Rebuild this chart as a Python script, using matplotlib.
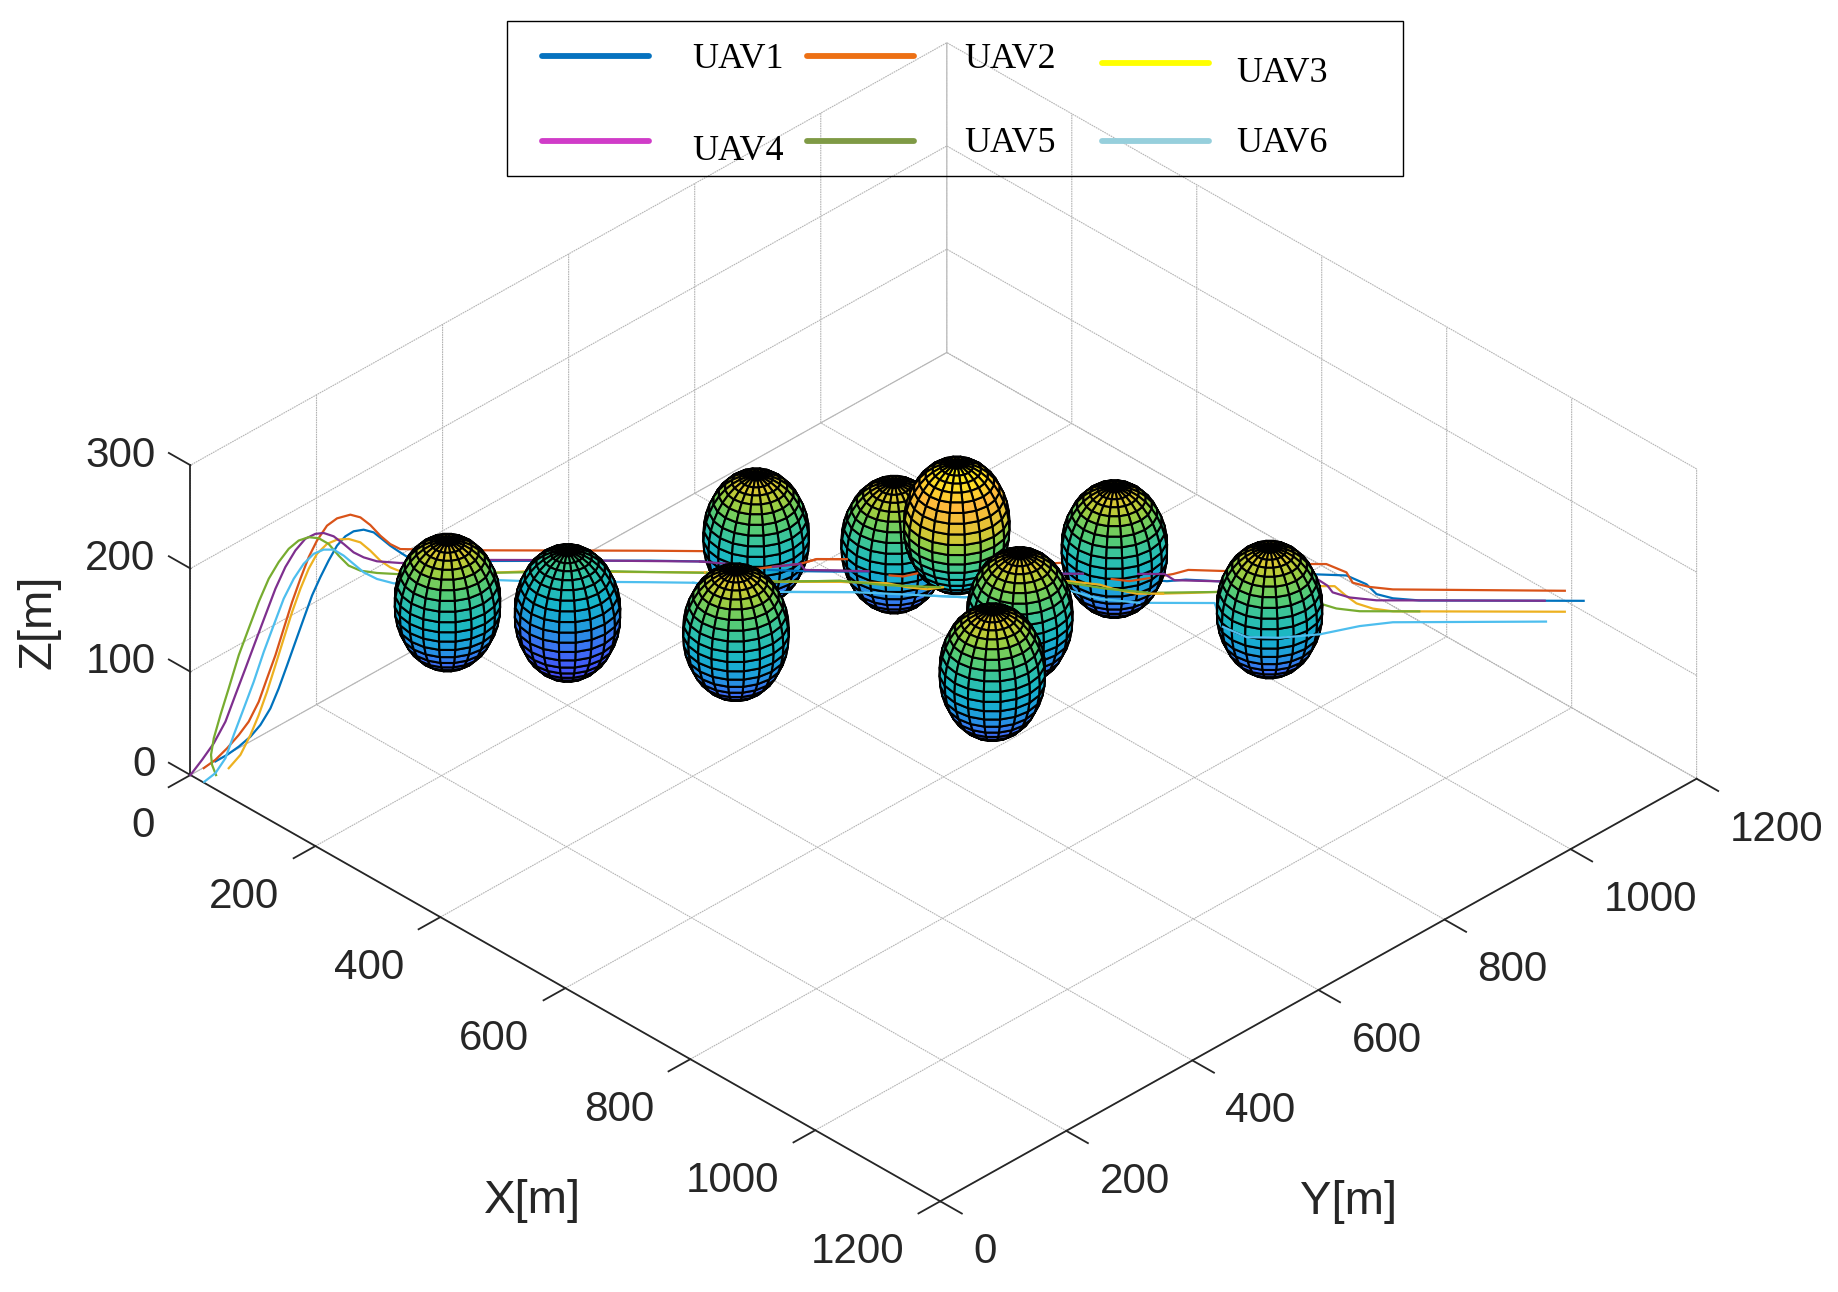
import numpy as np
import matplotlib
matplotlib.use("Agg")
import matplotlib.pyplot as plt
from matplotlib.colors import LinearSegmentedColormap
from matplotlib.lines import Line2D
from matplotlib.patches import Rectangle

plt.rcParams['font.family'] = ['Liberation Sans', 'DejaVu Sans']
plt.rcParams['grid.color'] = '#b4b4b4'
plt.rcParams['grid.linewidth'] = 0.8
plt.rcParams['grid.linestyle'] = (0, (1.5, 0.7))

x_ticks = [0, 200, 400, 600, 800, 1000, 1200]
y_ticks = [0, 200, 400, 600, 800, 1000, 1200]
z_ticks = [0, 100, 200, 300]

# obstacle centres, radius 60
back_x = [287, 407, 488, 588]
back_y = [613, 713, 732, 883]
back_z = [120, 120, 160, 120]
front_x = [135, 201, 406, 608, 666, 797]
front_y = [274, 399, 463, 713, 612, 922]
front_z = [120, 90, 120, 120, 120, 120]
radius = 60

# paths fly along x = y, so only x and z are listed
uav1_x = [19.9, 29.2, 38.5, 47.8, 55.7, 63.7, 70.3, 77, 83.6, 90.2, 96.9, 103.5, 110.1, 116.8, 123.4, 130, 138, 146, 152.6, 159.2, 167.2, 175, 239, 366, 411, 460, 486, 540, 693, 711, 778, 793, 820, 897, 921, 937, 945, 958, 979, 1110]
uav1_z = [13.2, 19.6, 27.6, 37.3, 48.6, 64.7, 84, 106.5, 129.1, 151.6, 174.2, 191.9, 208, 222.5, 231.5, 236.4, 238, 235.4, 229, 222.5, 216, 210, 208, 208.7, 208, 200, 199, 198.6, 197, 197, 190, 191.6, 190, 197, 196, 187.5, 178, 174, 172, 172]
uav2_x = [10.6, 19.9, 29.2, 38.5, 46.4, 54.4, 61, 67.7, 74.3, 81, 87.6, 94.2, 100.8, 108.8, 116.8, 127.4, 135.4, 143.3, 151.3, 159.2, 167.2, 233.5, 366, 411.6, 451, 464, 486, 499, 523, 557, 568, 579, 687, 695, 734, 748, 764, 783, 795, 824, 893, 905, 921, 926, 939, 958, 1095]
uav2_z = [6.7, 14.8, 26, 38.9, 51.8, 71.1, 93.7, 116.2, 142, 167.8, 190.3, 211.2, 227.3, 241.8, 248.9, 252.5, 249.9, 242.5, 232.2, 224.1, 219.3, 218.3, 218.3, 218, 201, 203, 206, 210.6, 210.6, 195, 194, 197, 207, 207.7, 192, 190, 193, 197, 201, 200, 207, 207, 199, 189, 185, 182.6, 181.7]
uav3_x = [30.5, 39.8, 47.8, 54.4, 61, 67.7, 74.3, 81, 87.6, 94.2, 100.8, 108.8, 116.8, 126, 135.4, 143.3, 151.3, 159.2, 167.2, 244.2, 268, 410, 467, 517.7, 555, 571, 587, 599.5, 698, 724.5, 735, 754, 775, 796, 817.5, 901, 911.6, 921, 929, 942, 958, 1095]
uav3_z = [6.7, 19.6, 38.9, 58.2, 80.8, 106.5, 132.3, 158.1, 180.6, 200, 214.5, 224.1, 228.3, 229, 225.7, 217.7, 208, 201.6, 197.7, 196.8, 198, 197.4, 188.6, 188.6, 187.4, 183.6, 181.6, 183.6, 190, 186.5, 182.6, 177.8, 178, 178.7, 179.7, 185.6, 185.6, 176, 169, 164, 161.4, 161.4]
uav4_x = [0, 9.3, 18.6, 27.9, 35.8, 43.8, 51.7, 59.7, 67.7, 75.6, 83.6, 91.5, 99.5, 106.1, 114.1, 122.1, 130, 138, 148.6, 167.2, 238.9, 273.4, 406, 428.6, 464, 486, 489.6, 540, 693.5, 711, 755, 776, 784, 820, 897, 906, 910, 923.6, 945, 1079]
uav4_z = [0, 14.8, 30.8, 51.8, 77.6, 103.3, 129.1, 154.9, 180.6, 201.6, 217.7, 229, 233.8, 234.7, 231.5, 224.1, 216, 211.2, 207.4, 205.8, 209, 209, 208, 205.7, 203, 206, 200, 199, 197, 197, 197, 197, 191, 190, 193, 186, 179.6, 174.7, 172, 172]
uav5_x = [20.4, 17.2, 16.4, 18.6, 23.9, 30.5, 38.5, 46.4, 54.4, 62.4, 70.3, 78.3, 86.2, 94.2, 102.2, 110.1, 118.1, 126, 135.4, 148.6, 164.5, 331.7, 366, 411.6, 464, 517.7, 555, 597, 698, 730, 764, 817.5, 902, 913, 931.5, 979]
uav5_z = [0, 9.9, 19.6, 35.7, 58.2, 84, 116.2, 142, 167.8, 190.3, 206.4, 219.3, 227.3, 230.6, 229.6, 224.1, 212.8, 203.2, 198.3, 196.1, 195.1, 198.4, 197.7, 197, 188.6, 189.6, 185.5, 183.6, 188.6, 182.6, 178.7, 179.7, 168, 164, 161.4, 161.4]
uav6_x = [22, 19.9, 27.9, 34.5, 42.5, 50.4, 58.4, 66.3, 74.3, 82.3, 90.2, 98.2, 106.1, 114.1, 122.1, 130, 138, 148.6, 161.9, 246.8, 272, 329, 366, 400.6, 470, 528, 617, 700.6, 724.5, 756, 816, 822.5, 841.6, 868, 900, 931.5, 958, 1080]
uav6_y = [0, 19.9, 27.9, 34.5, 42.5, 50.4, 58.4, 66.3, 74.3, 82.3, 90.2, 98.2, 106.1, 114.1, 122.1, 130, 138, 148.6, 161.9, 246.8, 272, 329, 366, 400.6, 470, 528, 617, 700.6, 724.5, 756, 816, 822.5, 841.6, 868, 900, 931.5, 958, 1080]
uav6_z = [1, 1.9, 16.4, 38.9, 64.7, 90.4, 119.4, 145.2, 171, 190.3, 204.8, 214.5, 218.6, 218.6, 212.8, 204.8, 196.7, 190.3, 186.1, 189.4, 188.4, 188, 187.8, 187.4, 178.7, 178.7, 174, 180.7, 172.7, 169, 169, 146, 136, 135.5, 139, 147, 150.8, 151.8]

uav_colors = ['#0072BD', '#D95319', '#EDB120', '#7E2F8E', '#77AC30', '#4DBEEE']
legend_colors = ['#0672BF', '#ED7014', '#FFFF00', '#D03CC8', '#7F9A45', '#96CFDC']
legend_names = ['UAV1', 'UAV2', 'UAV3', 'UAV4', 'UAV5', 'UAV6']

# x ranges where a path runs in front of the rear obstacles
uav1_front = [(460, 540), (693, 711)]
uav2_front = [(451, 523), (557, 579), (734, 778)]
uav3_front = [(410, 600), (698, 775)]
uav4_front = [(406, 429), (464, 540), (693, 711), (755, 776)]
uav5_front = [(411, 597), (698, 764)]
uav6_front = [(400, 617), (700, 756)]

# colours picked off the spheres in the picture
parula = LinearSegmentedColormap.from_list('parula', [
    (0.0, (0.24, 0.15, 0.66)), (0.16, (0.27, 0.31, 0.98)),
    (0.31, (0.235, 0.43, 0.96)), (0.40, (0.137, 0.59, 0.88)),
    (0.50, (0.078, 0.706, 0.80)), (0.60, (0.196, 0.765, 0.647)),
    (0.67, (0.353, 0.804, 0.431)), (0.74, (0.647, 0.804, 0.235)),
    (0.78, (0.86, 0.78, 0.20)), (0.89, (1.0, 0.725, 0.235)),
    (1.0, (0.98, 0.95, 0.10))])
zmin = 20
zmax = 220


def draw_sphere(ax, cx, cy, cz, order):
    u = np.linspace(0, 2 * np.pi, 21)
    v = np.linspace(0, np.pi, 21)
    sx = cx + radius * np.outer(np.cos(u), np.sin(v))
    sy = cy + radius * np.outer(np.sin(u), np.sin(v))
    sz = cz + radius * np.outer(np.ones_like(u), np.cos(v))
    # colour each facet by the height of its middle
    mid = 0.5 * (sz[:, :-1] + sz[:, 1:])
    mid = np.hstack([mid, mid[:, -1:]])
    colors = parula((mid - zmin) / (zmax - zmin))
    surf = ax.plot_surface(sx, sy, sz, facecolors=colors, edgecolor='black',
                           linewidth=1.5, rstride=1, cstride=1, shade=False)
    surf.set_zorder(order)


def draw_part(ax, xs, ys, zs, color, lo, hi, order):
    xs, ys, zs = np.array(xs), np.array(ys), np.array(zs)
    keep = (xs >= lo) & (xs <= hi)
    ax.plot(xs[keep], ys[keep], zs[keep], color=color, lw=1.6, zorder=order)


fig = plt.figure(figsize=(18.38, 12.92), dpi=100)
ax = fig.add_axes([-83.5 / 1838, -357 / 1292, 2000 / 1838, 2000 / 1292],
                  projection='3d', computed_zorder=False)
ax.patch.set_visible(False)
ax.set_proj_type('ortho')
ax.view_init(elev=34.3, azim=-44.75)
ax.set_box_aspect((1065, 1065, 375), zoom=0.7534)

paths = [
    (uav1_x, uav1_x, uav1_z, uav1_front),
    (uav2_x, uav2_x, uav2_z, uav2_front),
    (uav3_x, uav3_x, uav3_z, uav3_front),
    (uav4_x, uav4_x, uav4_z, uav4_front),
    (uav5_x, uav5_x, uav5_z, uav5_front),
    (uav6_x, uav6_y, uav6_z, uav6_front),
]
for i, (xs, ys, zs, front) in enumerate(paths):
    ax.plot(xs, ys, zs, color=uav_colors[i], lw=1.6, zorder=1 + i * 0.01)
    for lo, hi in front:
        draw_part(ax, xs, ys, zs, uav_colors[i], lo, hi, 5 + i * 0.01)

for i in range(len(back_x)):
    draw_sphere(ax, back_x[i], back_y[i], back_z[i], 2 + i * 0.1)
for i in range(len(front_x)):
    draw_sphere(ax, front_x[i], front_y[i], front_z[i], 6 + i * 0.1)
# UAV6 crosses the last obstacle on its near side
draw_part(ax, uav6_x, uav6_y, uav6_z, uav_colors[5], 822, 900, 8)

ax.set_xlim(0, 1200)
ax.set_ylim(0, 1200)
ax.set_zlim(0, 300)
ax.set_xticks(x_ticks)
ax.set_yticks(y_ticks)
ax.set_zticks(z_ticks)
ax.set_xticklabels([])
ax.set_yticklabels([])
ax.set_zticklabels([])
ax.zaxis.set_ticks_position('lower')
# z ticks should run along x, not along y
ax.zaxis._get_tickdir = lambda pos: 0

for axis in (ax.xaxis, ax.yaxis, ax.zaxis):
    axis.set_pane_color((1, 1, 1, 0))
    axis.pane.set_edgecolor((1, 1, 1, 0))
    axis.line.set_color('#262626')
    axis.line.set_linewidth(1.3)
    axis._axinfo['tick']['outward_factor'] = 0.0
    axis._axinfo['tick']['inward_factor'] = 0.36
    axis._axinfo['tick']['linewidth'] = {True: 1.3, False: 1.3}
    axis._axinfo['tick']['color'] = '#262626'
ax.zaxis._axinfo['tick']['outward_factor'] = 0.36
ax.zaxis._axinfo['tick']['inward_factor'] = 0.0
ax.tick_params(colors='#262626', width=1.3)

label_size = 30.3
title_size = 34
text_color = '#262626'
for v in x_ticks:
    ax.text(v, -57, -30, str(v), ha='right', va='center', fontsize=label_size, color=text_color)
for v in y_ticks:
    ax.text(1253, v, -31, str(v), ha='left', va='center', fontsize=label_size, color=text_color)
for v in z_ticks:
    ax.text(-56, 0, v - 10, str(v), ha='right', va='center', fontsize=label_size, color=text_color)
ax.text(876, -325, 0, 'X[m]', ha='center', va='center', fontsize=title_size, color=text_color)
ax.text(1525, 325, 0, 'Y[m]', ha='center', va='center', fontsize=title_size, color=text_color)

# hand placed legend, the entries are not on a regular grid
leg = fig.add_axes([0, 0, 1, 1])
leg.set_xlim(0, 1838)
leg.set_ylim(1292, 0)
leg.axis('off')
leg.patch.set_visible(False)
leg.text(39, 622, 'Z[m]', rotation=90, ha='center', va='center', fontsize=title_size, color=text_color)
leg.add_patch(Rectangle((506.5, 21), 896.5, 155, fill=False, edgecolor='black', linewidth=1))
handle_x = [542, 807, 1102, 542, 807, 1102]
handle_y = [56, 56, 63, 141, 141, 141]
text_x = [692, 964, 1236, 692, 964, 1236]
text_y = [60, 60, 74, 152, 144, 144]
for i in range(6):
    leg.add_line(Line2D([handle_x[i], handle_x[i] + 107], [handle_y[i], handle_y[i]],
                        color=legend_colors[i], lw=4.2, solid_capstyle='round'))
    leg.text(text_x[i], text_y[i], legend_names[i], family=['Liberation Serif', 'DejaVu Serif'],
             fontsize=26, ha='left', va='center', color='black')

fig.savefig('out.png', dpi=100, facecolor='white')
